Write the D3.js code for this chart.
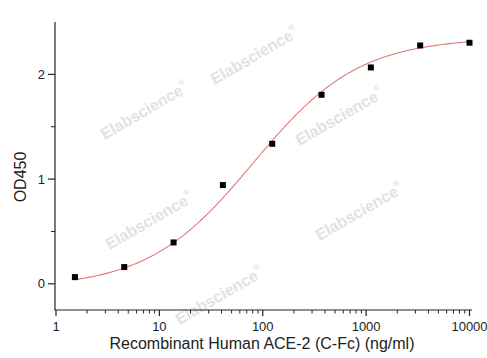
<!DOCTYPE html>
<html>
<head>
<meta charset="utf-8">
<script src="https://cdn.jsdelivr.net/npm/d3@7"></script>
<style>
  html, body { margin: 0; padding: 0; background: #fff; }
  svg { display: block; }
  text { font-family: "Liberation Sans", Arial, sans-serif; }
</style>
</head>
<body>
<svg id="chart" width="487" height="358"></svg>
<script>
// ---- data ----
const concentrations = [1.524, 4.572, 13.72, 41.15, 123.5, 370.4, 1111, 3333, 10000];
const odValues = [0.064, 0.16, 0.395, 0.943, 1.337, 1.805, 2.066, 2.276, 2.302];
const xTickValues = [1, 10, 100, 1000, 10000];
const xTickLabels = ["1", "10", "100", "1000", "10000"];
const yTickValues = [0, 1, 2];
const yTickLabels = ["0", "1", "2"];
const yMinorTicks = [0.5, 1.5];
// four-parameter logistic fit of the points (bottom, top, EC50, slope)
const fitBottom = -0.04, fitTop = 2.35, fitEC50 = 81, fitSlope = 0.85;
const xTitle = "Recombinant Human ACE-2 (C-Fc) (ng/ml)";
const yTitle = "OD450";
const watermarkText = "Elabscience";
const watermarkSpots = [[255, 57], [145, 112], [340, 118], [150, 222], [360, 213], [220, 297]];

const svg = d3.select("#chart");
const x = d3.scaleLog().domain([1, 10000]).range([56, 469.5]);
const y = d3.scaleLinear().domain([-0.25, 2.5]).range([310, 22]);

// watermarks
const wm = svg.append("g");
watermarkSpots.forEach(([cx, cy]) => {
  const t = wm.append("text")
    .attr("transform", `translate(${cx},${cy}) rotate(-30)`)
    .attr("text-anchor", "middle")
    .attr("dominant-baseline", "middle")
    .attr("font-size", 16)
    .attr("font-weight", "bold")
    .attr("fill", "#e2e2e2");
  t.append("tspan").text(watermarkText);
  t.append("tspan").attr("font-size", 8).attr("dy", -7).text("®");
});

const axisColor = "#222";

// x axis
const xAxisG = svg.append("g").attr("transform", `translate(0,${y.range()[0]})`);
xAxisG.append("line").attr("x1", 55).attr("x2", 472).attr("y1", 0).attr("y2", 0)
  .attr("stroke", axisColor).attr("stroke-width", 1.2);
const minorX = [];
for (let d = 1; d < 10000; d *= 10) for (let k = 2; k <= 9; k++) minorX.push(d * k);
xAxisG.selectAll(".xminor").data(minorX).join("line")
  .attr("x1", d => x(d)).attr("x2", d => x(d)).attr("y1", 0).attr("y2", 3.5)
  .attr("stroke", axisColor).attr("stroke-width", 1);
xAxisG.selectAll(".xmajor").data(xTickValues).join("line")
  .attr("x1", d => x(d)).attr("x2", d => x(d)).attr("y1", 0).attr("y2", 6)
  .attr("stroke", axisColor).attr("stroke-width", 1.2);
xAxisG.selectAll(".xlab").data(xTickValues).join("text")
  .attr("x", d => x(d)).attr("y", 21)
  .attr("text-anchor", "middle").attr("font-size", 13).attr("fill", "#222")
  .text((d, i) => xTickLabels[i]);

// y axis
const yAxisG = svg.append("g").attr("transform", `translate(55,0)`);
yAxisG.append("line").attr("x1", 0).attr("x2", 0).attr("y1", 22).attr("y2", 310.5)
  .attr("stroke", axisColor).attr("stroke-width", 1.2);
yAxisG.selectAll(".ymajor").data(yTickValues).join("line")
  .attr("x1", -7).attr("x2", 0).attr("y1", d => y(d)).attr("y2", d => y(d))
  .attr("stroke", axisColor).attr("stroke-width", 1.2);
yAxisG.selectAll(".yminor").data(yMinorTicks).join("line")
  .attr("x1", -4).attr("x2", 0).attr("y1", d => y(d)).attr("y2", d => y(d))
  .attr("stroke", axisColor).attr("stroke-width", 1);
yAxisG.selectAll(".ylab").data(yTickValues).join("text")
  .attr("x", -10).attr("y", d => y(d)).attr("dy", "0.35em")
  .attr("text-anchor", "end").attr("font-size", 13).attr("fill", "#222")
  .text((d, i) => yTickLabels[i]);

// titles
svg.append("text").attr("x", 262).attr("y", 349).attr("text-anchor", "middle")
  .attr("font-size", 16).attr("fill", "#222").text(xTitle);
svg.append("text").attr("transform", "translate(26,177) rotate(-90)")
  .attr("text-anchor", "middle").attr("font-size", 16).attr("fill", "#222").text(yTitle);

// fitted curve
const fit = c => fitTop + (fitBottom - fitTop) / (1 + Math.pow(c / fitEC50, fitSlope));
const curveXs = d3.range(0, 201).map(i => Math.pow(10, Math.log10(concentrations[0]) + i / 200 * (Math.log10(concentrations[concentrations.length - 1]) - Math.log10(concentrations[0]))));
svg.append("path")
  .attr("d", d3.line().x(c => x(c)).y(c => y(fit(c)))(curveXs))
  .attr("fill", "none").attr("stroke", "#e07a7a").attr("stroke-width", 1.1);

// points
const sz = 6;
svg.selectAll(".pt").data(concentrations).join("rect")
  .attr("x", d => x(d) - sz / 2).attr("y", (d, i) => y(odValues[i]) - sz / 2)
  .attr("width", sz).attr("height", sz).attr("fill", "#000");
</script>
</body>
</html>
